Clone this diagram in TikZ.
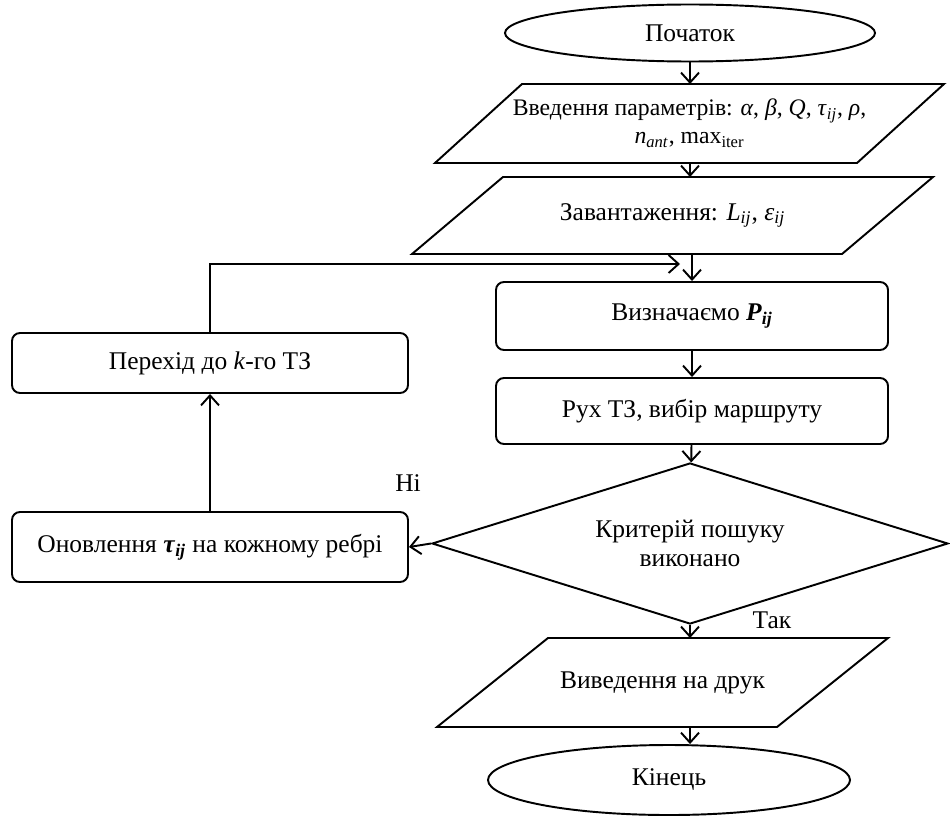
\documentclass[tikz,border=0pt]{standalone}
\usepackage{fontspec}
\setmainfont{Liberation Serif}
\usetikzlibrary{shapes.geometric,arrows.meta,calc}

\begin{document}
\begin{tikzpicture}[x=0.2mm,y=-0.2mm,line width=1.1pt,
    font=\fontsize{14.5}{16.5}\selectfont,
    term/.style={draw,ellipse,inner sep=0pt},
    io/.style={rectangle,align=center,inner sep=1pt,outer sep=0pt,
      append after command={\pgfextra{\draw
        ($(\tikzlastnode.south west)-(#1,0)$) -- ($(\tikzlastnode.north west)+(#1,0)$)
        -- ($(\tikzlastnode.north east)+(#1,0)$) -- ($(\tikzlastnode.south east)-(#1,0)$)
        -- cycle;}}},
    io/.default=45,
    proc/.style={draw,rectangle,rounded corners=1.6mm,align=center},
    dec/.style={draw,diamond,aspect=3.2,align=center,inner sep=0pt},
    arr/.style={-{Straight Barb[length=2mm,width=3.6mm]}}]
  \useasboundingbox (0,0) rectangle (950,818);

  % main column
  \node[term, minimum width=7.4cm, minimum height=1.14cm] (start) at (690,33) {Початок};
  \node[io=43.5, minimum width=8.44cm, minimum height=1.58cm,
        font=\fontsize{13.5}{16}\selectfont] (inp) at (689.5,123.5)
    {Введення параметрів: \textit{α}, \textit{β}, \textit{Q}, \textit{τ}\textsubscript{\textit{ij}}, \textit{ρ},\\
     \textit{n}\textsubscript{\textit{ant}}, max\textsubscript{iter}};
  \node[io=45.5, minimum width=8.6cm, minimum height=1.54cm] (load) at (672.5,215.5)
    {Завантаження: \textit{L}\textsubscript{\textit{ij}}, \textit{ε}\textsubscript{\textit{ij}}};
  \node[proc, minimum width=7.84cm, minimum height=1.36cm] (calc) at (692,316)
    {Визначаємо \textbf{\textit{P}}\textsubscript{\textbf{\textit{ij}}}};
  \node[proc, minimum width=7.84cm, minimum height=1.32cm] (move) at (692,411)
    {Рух ТЗ, вибір маршруту};
  \node[dec, minimum width=10.32cm, minimum height=3.22cm] (crit) at (690,543.5)
    {Критерій пошуку\\ виконано};
  \node[io=55.5, minimum width=6.8cm, minimum height=1.78cm] (out) at (662.5,682.5)
    {Виведення на друк};
  \node[term, minimum width=7.24cm, minimum height=1.4cm] (end) at (669,780) {Кінець};

  % left branch
  \node[proc, minimum width=7.92cm, minimum height=1.2cm] (trans) at (210,363)
    {Перехід до \textit{k}-го ТЗ};
  \node[proc, minimum width=7.92cm, minimum height=1.4cm] (upd) at (210,547)
    {Оновлення \textbf{\textit{τ}}\textsubscript{\textbf{\textit{ij}}} на кожному ребрі};

  \node (no) at (408,483) {Ні};
  \node (yes) at (772,620) {Так};
  \coordinate (mrg) at (680,264);

  \draw[arr] (start.south) -- (start.south |- inp.north);
  \draw[arr] (start.south |- inp.south) -- (start.south |- load.north);
  \draw[arr] (calc.north |- load.south) -- (calc.north);
  \draw[arr] (calc) -- (move);
  \draw[arr] (move) -- (crit);
  \draw[arr] (crit.south) -- (crit.south |- out.north);
  \draw[arr] (crit.south |- out.south) -- (crit.south |- end.north);
  \draw[arr] (crit.west) -- (upd.east);
  \draw[arr] (upd) -- (trans);
  \draw[arr] (trans.north) |- (mrg);
\end{tikzpicture}
\end{document}
